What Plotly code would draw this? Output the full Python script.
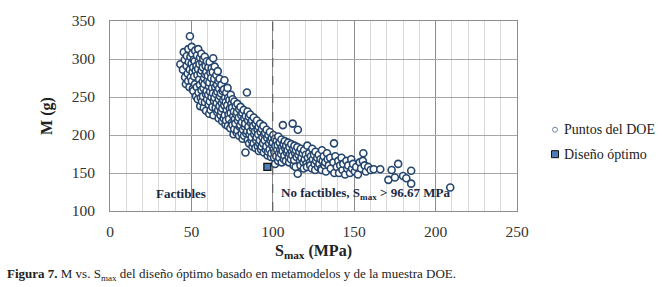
import plotly.graph_objects as go

# DOE sample points (S_max in MPa, M in g)
smax = [43.2,44.8,45.3,45.9,46.1,46.6,47.2,47.0,47.7,48.1,48.4,48.0,48.8,49.1,49.4,49.0,49.6,50.2,50.5,50.1,50.7,50.3,50.9,51.4,51.1,51.7,51.2,52.3,52.0,52.6,52.2,52.8,
        53.4,53.1,53.7,53.3,53.9,54.2,54.6,54.1,54.8,54.4,55.3,55.0,55.6,55.2,55.8,55.4,56.1,56.7,56.3,56.9,56.2,56.5,57.3,57.0,57.8,57.4,57.1,57.6,58.2,58.7,58.4,58.0,58.9,58.3,59.5,59.1,59.8,59.3,59.6,59.0,60.4,60.1,60.8,60.3,60.6,60.9,
        61.2,61.7,61.0,61.5,61.3,61.8, 62.4,62.1,62.7,62.3,62.9, 63.4,63.1,63.7,63.2,63.8,63.5, 64.3,64.0,64.6,64.2,64.9, 65.3,65.7,65.1,65.5,65.9, 66.2,66.6,66.0,66.8,66.4,66.7, 67.3,67.0,67.6,67.2,67.9, 68.4,68.1,68.7,68.3,68.9, 69.2,69.6,69.0,69.8, 70.3,70.0,70.7,70.2,70.5,70.9,
        71.4,71.1,71.7,71.3, 72.2,72.6,72.0,72.8,72.4, 73.3,73.7,73.1,73.9, 74.2,74.6,74.1,74.8, 75.3,75.0,75.7,75.2,75.9, 76.4,76.1,76.7,76.3, 77.2,77.6,77.0,77.8, 78.3,78.0,78.6,78.2, 79.4,79.1,79.7,79.3, 80.2,80.6,80.0,80.8,
        81.3,81.0,81.7,81.4, 82.1,82.5,82.8,82.3, 83.4,83.0,83.7,83.2, 84.1,84.5,84.8,84.2,84.6, 85.3,85.0,85.7,85.4, 86.1,86.6,86.3,86.9, 87.2,87.7,87.0,87.5, 88.3,88.0,88.6,88.2, 89.4,89.1,89.8,89.3, 90.2,90.6,90.0,90.8,
        91.3,91.0,91.7,91.4, 92.2,92.5,92.0,92.8, 93.3,93.6,93.1, 94.2,94.7,94.0,94.5, 95.3,95.0,95.7, 96.2,96.6,96.0,96.8, 97.3,97.7,97.1, 98.2,98.6,98.0,98.9, 99.3,99.7,99.1, 100.3,100.0,100.6,100.8,
        101.2,101.6,101.0,101.4, 102.3,102.7,102.1, 103.4,103.0,103.8,103.3, 104.2,104.6,104.0, 105.3,105.7,105.1,105.5, 106.2,106.6,106.0,106.8, 107.3,107.7,107.1, 108.2,108.6,108.0, 109.4,109.1,109.7, 110.2,110.6,110.0, 111.3,111.7,111.1, 112.2,112.6,112.0,112.8, 113.3,113.7,113.1, 114.2,114.6,114.0, 115.4,115.1,115.7,115.3,
        116.3,116.7, 117.2,117.6,117.0, 118.3,118.8, 119.2,119.6,119.0, 120.3,120.7, 121.2,121.6,121.0, 122.3,122.8, 123.4,123.0, 124.2,124.6,124.0, 125.3,125.7, 126.2,126.6,126.0, 127.3,127.8, 128.2,128.6, 129.3,129.7, 130.2,130.6,130.0, 131.3,131.8, 132.2,132.6, 133.3,133.7, 134.4, 135.2,135.6,
        137.6,137.2,137.8,138.4,139.3,140.2,140.7,141.4,142.2,142.8,143.3,144.4,145.2,145.7,146.3,147.4,148.2,148.7,149.3,150.4,151.2,152.3,153.4,154.2,155.6,155.3,156.4,157.2,158.6,160.1,
        162,166,173,177,171,175,180,182,185,185,209]
mass = [293,286,309,299,276,267,304,291,281,313,296,271,263,330,303,286,276,316,307,294,283,271,261,299,289,277,258,311,297,285,267,251,
        305,291,279,263,247,313,298,287,273,256,302,293,281,266,249,238,307,295,285,270,259,244,300,289,275,262,251,236,303,291,280,267,254,243,297,283,271,258,247,232,289,278,264,253,240,228,
        296,282,269,257,244,233, 288,275,262,250,237, 301,283,268,255,245,226, 290,274,263,249,236, 279,266,254,242,230, 284,271,257,247,233,222, 274,261,251,238,226, 266,255,242,231,218, 258,246,235,222, 272,260,249,239,226,214,
        256,243,233,219, 262,249,239,227,212, 246,235,221,209, 253,241,229,216, 247,236,225,213,201, 244,231,221,208, 238,227,215,203, 241,230,219,206, 234,223,211,199, 237,226,213,202,
        229,217,207,195, 233,222,211,199, 225,215,202,177, 256,231,219,205,193, 224,211,201,189, 227,216,205,193, 219,209,197,185, 223,212,201,189, 215,205,193,183, 219,207,197,185,
        211,201,189,179, 215,204,193,181, 208,197,185, 212,201,189,177, 203,193,181, 207,196,185,173, 200,189,178, 204,193,181,171, 196,186,176, 200,190,181,170,
        195,186,177,162, 192,181,172, 198,187,176,166, 190,181,170, 194,184,175,164, 213,188,179,168, 192,182,173, 186,177,166, 190,180,171, 184,175,164, 188,178,168, 215,182,173,160, 186,176,167, 180,171,158, 207,184,174,149,
        178,166, 182,170,160, 176,164, 180,168,156, 174,162, 186,170,158, 176,164, 172,160, 182,168,156, 174,162, 178,166,154, 170,158, 174,162, 168,156, 180,166,154, 172,160, 164,152, 176,168, 160, 170,156,
        189,164,150,172,158,166,150,160,170,154,162,148,166,156,160,150,168,156,162,152,158,148,164,156,176,166,160,152,158,154,
        155,155,154,162,141,144,146,143,153,136,131]

# Optimal design
opt_smax = [96.67]
opt_mass = [158]

xticks = [0, 50, 100, 150, 200, 250]
yticks = [100, 150, 200, 250, 300, 350]
legend_labels = ["Puntos del DOE", "Diseño óptimo"]

serif = "Liberation Serif, Times New Roman, serif"

fig = go.Figure()
fig.add_trace(go.Scatter(
    x=smax, y=mass, mode="markers", name=legend_labels[0], showlegend=False,
    marker=dict(symbol="circle", size=7, color="white",
                line=dict(color="#24456e", width=1.6)),
))
fig.add_trace(go.Scatter(
    x=opt_smax, y=opt_mass, mode="markers", name=legend_labels[1], showlegend=False,
    marker=dict(symbol="square", size=7, color="#4a7ebb",
                line=dict(color="#111111", width=1.3)),
))

fig.add_shape(type="line", x0=100, x1=100, y0=100, y1=350, xref="x", yref="y",
              line=dict(color="#555555", width=1, dash="dash"))

# manual legend (kept outside of the plot area without shrinking it)
fig.add_shape(type="circle", xref="paper", yref="paper", xsizemode="pixel", ysizemode="pixel",
              xanchor=1.0934, yanchor=0.4278, x0=-2.5, x1=2.5, y0=-2.5, y1=2.5,
              line=dict(color="#6f86a8", width=1), fillcolor="white")
fig.add_shape(type="rect", xref="paper", yref="paper", xsizemode="pixel", ysizemode="pixel",
              xanchor=1.0934, yanchor=0.299, x0=-3.5, x1=3.5, y0=-3.5, y1=3.5,
              line=dict(color="#111111", width=1), fillcolor="#4a7ebb")
fig.add_annotation(text=legend_labels[0], xref="paper", yref="paper", x=1.111, y=0.4278,
                   xanchor="left", yanchor="middle", showarrow=False,
                   font=dict(family=serif, size=14, color="#222222"))
fig.add_annotation(text=legend_labels[1], xref="paper", yref="paper", x=1.111, y=0.299,
                   xanchor="left", yanchor="middle", showarrow=False,
                   font=dict(family=serif, size=14, color="#222222"))

fig.update_xaxes(range=[0, 250], tickvals=xticks, showgrid=True, gridcolor="#8c8c8c", gridwidth=1,
                 minor=dict(dtick=10, showgrid=True, gridcolor="#d9d9d9", gridwidth=1),
                 showline=True, linecolor="#8c8c8c", mirror=True, zeroline=False,
                 ticks="", ticklabelstandoff=6,
                 tickfont=dict(family=serif, size=15.5, color="#333333"))
fig.update_yaxes(range=[100, 350], tickvals=yticks, showgrid=True, gridcolor="#a6a6a6", gridwidth=1,
                 showline=True, linecolor="#8c8c8c", mirror=True, zeroline=False,
                 ticks="", ticklabelstandoff=11,
                 tickfont=dict(family=serif, size=15.5, color="#333333"))

fig.add_annotation(text="<b>M (g)</b>", xref="paper", yref="paper", x=-0.155, y=0.5,
                   xanchor="center", yanchor="middle",
                   textangle=-90, showarrow=False, font=dict(family=serif, size=16, color="#222222"))
fig.add_annotation(text="<b>S<sub>max</sub> (MPa)</b>", xref="paper", yref="paper", x=0.5, y=-0.215,
                   xanchor="center", yanchor="middle",
                   showarrow=False, font=dict(family=serif, size=16, color="#222222"))
fig.add_annotation(text="<b>Factibles</b>", xref="x", yref="y", x=43.5, y=123,
                   xanchor="center", yanchor="middle",
                   showarrow=False, font=dict(family=serif, size=13, color="#1a2a44"))
fig.add_annotation(text="<b>No factibles, S<sub>max</sub> > 96.67 MPa</b>", xref="x", yref="y", x=157, y=123,
                   xanchor="center", yanchor="middle",
                   showarrow=False, font=dict(family=serif, size=13, color="#1a2a44"))
fig.add_annotation(text="<b>Figura 7.</b> M vs. S<sub>max</sub> del diseño óptimo basado en metamodelos y de la muestra DOE.",
                   xref="paper", yref="paper", x=-0.258, y=-0.335, xanchor="left", yanchor="middle",
                   showarrow=False, font=dict(family=serif, size=13, color="#222222"))

fig.update_layout(
    width=663, height=287,
    margin=dict(l=110, r=146, t=17, b=76),
    plot_bgcolor="white", paper_bgcolor="white",
    showlegend=False,
)

fig.write_html("out.html", config={"displayModeBar": False},
               post_script="document.body.style.margin='0';")
